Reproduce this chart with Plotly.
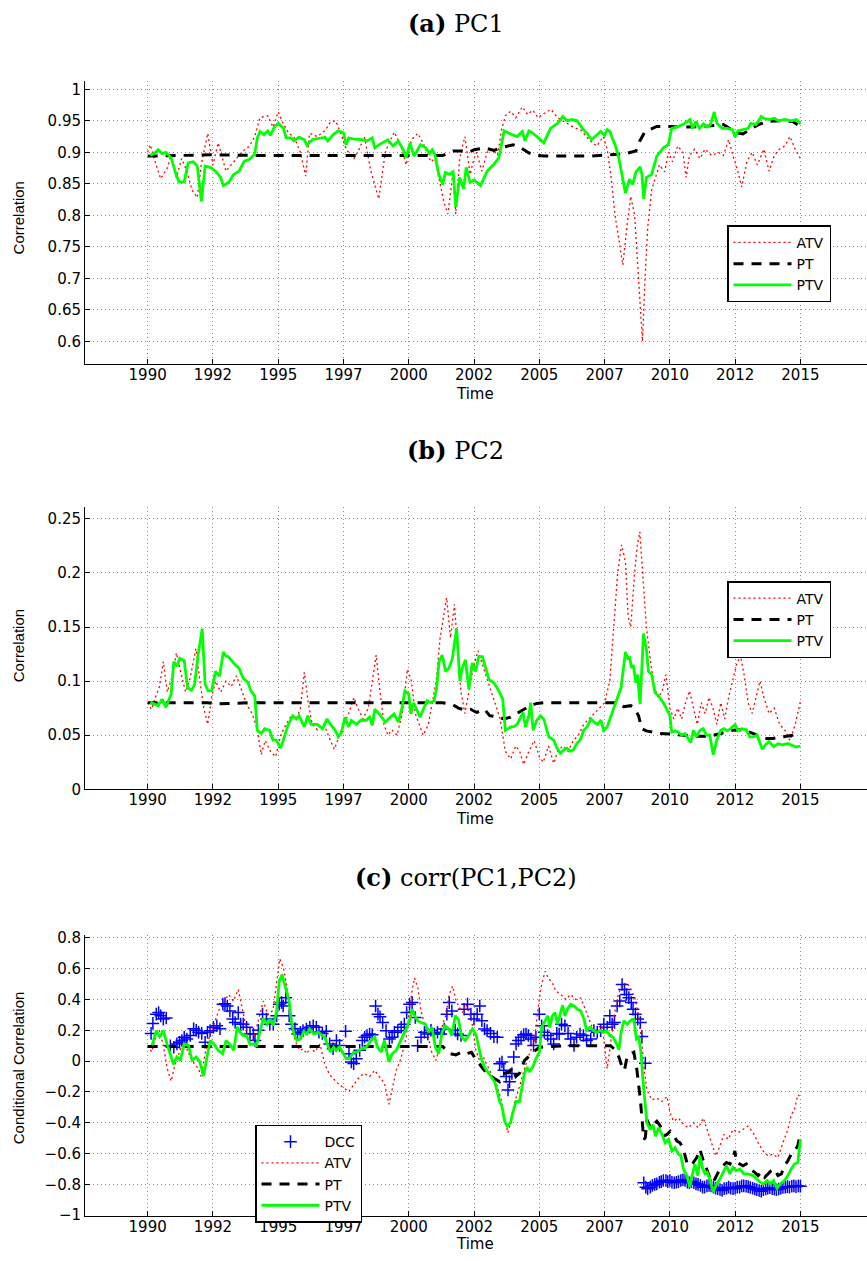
import plotly.graph_objects as go

# ---------------- Panel (a) PC1 ----------------
a_atv_t = [1990.0,1990.1,1990.3,1990.5,1990.75,1990.9,1991.1,1991.3,1991.5,1991.7,1991.9,1992.05,1992.3,1992.5,1992.7,
           1993.0,1993.3,1993.6,1993.9,1994.1,1994.3,1994.6,1994.8,1995.0,1995.2,1995.4,1995.6,1995.85,1996.05,1996.2,
           1996.5,1996.8,1997.0,1997.2,1997.4,1997.6,1997.9,1998.1,1998.3,1998.55,1998.85,1999.1,1999.3,1999.45,1999.7,
           1999.9,2000.1,2000.35,2000.6,2000.85,2001.0,2001.2,2001.35,2001.5,2001.7,2001.8,2001.95,2002.15,2002.35,2002.5,
           2002.6,2002.8,2003.0,2003.2,2003.4,2003.55,2003.7,2003.9,2004.1,2004.35,2004.55,2004.75,2004.95,2005.2,2005.45,
           2005.7,2006.0,2006.3,2006.6,2006.9,2007.2,2007.45,2007.6,2007.75,2007.9,2008.05,2008.2,2008.35,2008.5,2008.65,
           2008.8,2008.95,2009.05,2009.15,2009.3,2009.45,2009.6,2009.8,2009.95,2010.1,2010.3,2010.5,2010.62,2010.75,2010.95,
           2011.15,2011.35,2011.6,2011.85,2012.05,2012.25,2012.45,2012.6,2012.75,2012.95,2013.15,2013.35,2013.6,2013.8,2014.0,
           2014.2,2014.4,2014.6,2014.8,2015.0]
a_atv_v = [0.900,0.912,0.883,0.858,0.875,0.895,0.860,0.890,0.870,0.840,0.828,0.880,0.930,0.880,0.915,
           0.870,0.885,0.900,0.910,0.925,0.955,0.958,0.940,0.964,0.945,0.930,0.925,0.900,0.862,0.930,
           0.925,0.935,0.948,0.950,0.930,0.905,0.890,0.905,0.925,0.870,0.826,0.900,0.920,0.932,0.910,
           0.880,0.920,0.930,0.910,0.885,0.890,0.850,0.820,0.802,0.870,0.802,0.890,0.925,0.865,0.890,
           0.900,0.870,0.900,0.905,0.895,0.935,0.958,0.965,0.955,0.972,0.960,0.967,0.955,0.962,0.968,
           0.955,0.948,0.940,0.935,0.920,0.910,0.925,0.905,0.860,0.800,0.760,0.721,0.780,0.830,0.800,
           0.700,0.600,0.700,0.780,0.840,0.860,0.880,0.869,0.900,0.885,0.910,0.900,0.860,0.895,0.905,
           0.890,0.905,0.895,0.900,0.895,0.920,0.890,0.870,0.845,0.885,0.900,0.880,0.905,0.870,0.895,
           0.905,0.910,0.925,0.905,0.890]

a_pt_t = [1990.0,1991.0,1992.5,1994.0,1996.0,1998.0,2000.0,2001.3,2001.7,2002.0,2002.3,2002.5,2002.9,2003.26,2003.5,
          2003.8,2004.0,2004.3,2004.6,2004.9,2005.2,2006.0,2007.0,2008.0,2008.3,2008.7,2008.85,2009.05,2009.3,2009.5,
          2010.0,2010.5,2011.28,2012.05,2012.55,2012.8,2013.05,2013.45,2013.8,2014.3,2014.7,2015.0]
a_pt_v = [0.894,0.895,0.896,0.895,0.895,0.895,0.895,0.895,0.902,0.902,0.900,0.904,0.907,0.903,0.907,
          0.910,0.912,0.907,0.899,0.895,0.894,0.894,0.894,0.897,0.898,0.902,0.918,0.933,0.938,0.941,
          0.941,0.940,0.941,0.944,0.931,0.929,0.936,0.945,0.949,0.950,0.949,0.941]

a_ptv_t = [1990.1,1990.3,1990.4,1990.55,1990.7,1990.9,1991.1,1991.2,1991.4,1991.55,1991.75,1991.9,1992.06,1992.2,1992.4,
           1992.6,1992.8,1992.9,1993.1,1993.3,1993.5,1993.7,1993.9,1994.1,1994.2,1994.3,1994.45,1994.6,1994.7,1994.85,
           1995.0,1995.2,1995.3,1995.5,1995.6,1995.8,1996.0,1996.1,1996.3,1996.6,1996.8,1996.9,1997.1,1997.3,1997.5,
           1997.6,1997.7,1997.9,1998.2,1998.4,1998.6,1998.7,1998.9,1999.2,1999.4,1999.6,1999.8,1999.9,2000.05,2000.2,
           2000.3,2000.45,2000.65,2000.8,2000.9,2001.0,2001.15,2001.3,2001.4,2001.55,2001.7,2001.8,2001.95,2002.1,2002.2,
           2002.35,2002.5,2002.75,2003.0,2003.26,2003.45,2003.65,2003.9,2004.15,2004.35,2004.45,2004.6,2004.7,2004.9,2005.17,
           2005.43,2005.7,2005.9,2006.06,2006.25,2006.45,2006.65,2006.85,2007.0,2007.2,2007.35,2007.5,2007.6,2007.7,2007.9,
           2008.03,2008.16,2008.3,2008.45,2008.58,2008.7,2008.86,2008.93,2009.0,2009.1,2009.3,2009.5,2009.75,2009.94,2010.07,
           2010.26,2010.5,2010.77,2010.87,2011.0,2011.13,2011.28,2011.43,2011.55,2011.7,2011.8,2012.0,2012.2,2012.4,2012.5,
           2012.6,2012.8,2013.0,2013.1,2013.3,2013.5,2013.6,2013.8,2014.0,2014.15,2014.4,2014.65,2014.85,2015.0]
a_ptv_v = [0.895,0.900,0.904,0.898,0.900,0.891,0.863,0.853,0.853,0.883,0.885,0.878,0.822,0.878,0.876,
           0.870,0.860,0.847,0.852,0.865,0.870,0.886,0.889,0.897,0.923,0.933,0.928,0.934,0.927,0.940,
           0.946,0.938,0.923,0.923,0.918,0.924,0.920,0.911,0.920,0.923,0.924,0.918,0.928,0.934,0.931,
           0.912,0.923,0.921,0.920,0.918,0.923,0.907,0.913,0.920,0.910,0.918,0.903,0.891,0.915,0.894,
           0.902,0.912,0.907,0.898,0.904,0.897,0.865,0.849,0.868,0.865,0.869,0.813,0.860,0.842,0.876,
           0.852,0.856,0.847,0.870,0.881,0.891,0.934,0.929,0.925,0.933,0.918,0.934,0.932,0.925,0.915,
           0.938,0.946,0.957,0.950,0.952,0.950,0.938,0.929,0.920,0.928,0.933,0.927,0.936,0.933,0.912,
           0.894,0.863,0.835,0.857,0.849,0.869,0.877,0.865,0.826,0.860,0.865,0.894,0.907,0.912,0.938,
           0.940,0.944,0.952,0.938,0.949,0.938,0.945,0.940,0.944,0.964,0.946,0.938,0.938,0.936,0.924,
           0.934,0.936,0.938,0.946,0.944,0.957,0.954,0.952,0.954,0.950,0.952,0.950,0.952,0.945]

# ---------------- Panel (b) PC2 ----------------
b_atv_t = [1990.0,1990.15,1990.3,1990.45,1990.6,1990.75,1990.95,1991.1,1991.3,1991.45,1991.6,1991.75,1991.85,1992.0,1992.15,
           1992.3,1992.45,1992.6,1992.8,1993.0,1993.2,1993.4,1993.6,1993.8,1994.0,1994.2,1994.35,1994.5,1994.7,1994.9,
           1995.1,1995.3,1995.5,1995.7,1995.85,1996.0,1996.15,1996.3,1996.5,1996.75,1997.0,1997.15,1997.35,1997.5,1997.7,
           1997.9,1998.05,1998.25,1998.45,1998.6,1998.75,1998.9,1999.05,1999.2,1999.35,1999.55,1999.75,1999.95,2000.1,2000.25,
           2000.4,2000.55,2000.75,2000.9,2001.05,2001.2,2001.35,2001.45,2001.6,2001.75,2001.9,2002.0,2002.15,2002.3,2002.45,
           2002.65,2002.9,2003.1,2003.3,2003.5,2003.7,2003.9,2004.1,2004.25,2004.4,2004.6,2004.8,2005.0,2005.15,2005.35,
           2005.55,2005.7,2005.9,2006.1,2006.3,2006.5,2006.7,2006.9,2007.1,2007.3,2007.5,2007.7,2007.85,2008.0,2008.15,
           2008.3,2008.4,2008.5,2008.65,2008.75,2008.85,2008.95,2009.1,2009.25,2009.4,2009.55,2009.7,2009.85,2010.0,2010.15,
           2010.3,2010.45,2010.6,2010.75,2010.9,2011.05,2011.2,2011.35,2011.5,2011.65,2011.8,2011.95,2012.1,2012.25,2012.4,
           2012.55,2012.7,2012.85,2013.0,2013.15,2013.3,2013.45,2013.6,2013.8,2014.0,2014.2,2014.4,2014.6,2014.8,2015.0]
b_atv_v = [0.080,0.074,0.085,0.095,0.118,0.090,0.105,0.126,0.105,0.090,0.100,0.120,0.130,0.100,0.075,
           0.060,0.085,0.100,0.090,0.100,0.095,0.105,0.092,0.078,0.070,0.055,0.032,0.045,0.035,0.030,
           0.050,0.060,0.068,0.065,0.075,0.108,0.080,0.060,0.055,0.060,0.045,0.037,0.050,0.060,0.070,
           0.085,0.075,0.065,0.075,0.100,0.124,0.090,0.060,0.050,0.055,0.050,0.070,0.111,0.100,0.070,
           0.060,0.050,0.060,0.080,0.100,0.140,0.165,0.177,0.140,0.171,0.120,0.090,0.070,0.090,0.110,
           0.128,0.110,0.095,0.080,0.065,0.035,0.028,0.040,0.035,0.023,0.035,0.045,0.030,0.025,0.040,
           0.024,0.035,0.040,0.035,0.045,0.050,0.060,0.065,0.070,0.075,0.080,0.100,0.148,0.200,0.226,
           0.210,0.160,0.150,0.200,0.225,0.238,0.200,0.150,0.120,0.095,0.085,0.090,0.106,0.075,0.065,
           0.075,0.065,0.080,0.091,0.075,0.060,0.080,0.070,0.085,0.075,0.060,0.080,0.065,0.085,0.100,
           0.115,0.124,0.105,0.080,0.070,0.085,0.100,0.085,0.070,0.075,0.060,0.055,0.045,0.060,0.081]

b_pt_t = [1990.0,1992.3,1992.6,1994.0,2001.3,2001.7,2001.9,2002.2,2002.37,2002.6,2002.9,2003.1,2003.4,2003.65,2003.9,
          2004.15,2004.4,2004.66,2004.9,2005.2,2007.9,2008.23,2008.5,2008.65,2008.8,2008.92,2009.1,2009.37,2009.63,2010.0,
          2010.5,2011.0,2011.53,2011.9,2012.4,2012.8,2013.2,2013.57,2013.95,2014.33,2014.7,2015.0]
b_pt_v = [0.080,0.080,0.079,0.080,0.080,0.078,0.075,0.073,0.074,0.071,0.074,0.068,0.067,0.065,0.0667,
          0.070,0.0733,0.0773,0.0794,0.080,0.080,0.0764,0.0773,0.075,0.068,0.056,0.054,0.053,0.0515,0.051,
          0.050,0.049,0.049,0.0515,0.0545,0.055,0.0515,0.047,0.047,0.0485,0.050,0.052]

b_ptv_t = [1990.1,1990.25,1990.4,1990.55,1990.7,1990.9,1991.0,1991.13,1991.23,1991.4,1991.53,1991.68,1991.8,1991.93,1992.09,
           1992.2,1992.32,1992.45,1992.6,1992.75,1992.9,1993.0,1993.1,1993.35,1993.5,1993.65,1993.85,1993.95,1994.1,1994.2,
           1994.35,1994.48,1994.67,1994.8,1994.92,1995.1,1995.24,1995.37,1995.56,1995.7,1995.8,1996.0,1996.13,1996.26,1996.5,
           1996.7,1996.87,1997.0,1997.15,1997.3,1997.43,1997.56,1997.7,1997.8,1998.0,1998.17,1998.36,1998.5,1998.6,1998.7,
           1998.87,1999.1,1999.3,1999.44,1999.6,1999.73,1999.85,2000.0,2000.08,2000.18,2000.3,2000.43,2000.56,2000.7,2000.84,
           2000.97,2001.07,2001.16,2001.28,2001.41,2001.54,2001.67,2001.83,2001.96,2002.05,2002.17,2002.3,2002.43,2002.56,2002.68,
           2002.82,2002.95,2003.07,2003.26,2003.45,2003.6,2003.7,2003.9,2004.03,2004.15,2004.28,2004.38,2004.47,2004.6,2004.67,
           2004.76,2004.9,2005.04,2005.17,2005.36,2005.55,2005.68,2005.8,2005.93,2006.06,2006.19,2006.3,2006.44,2006.57,2006.7,
           2006.83,2006.98,2007.1,2007.23,2007.36,2007.46,2007.6,2007.7,2007.8,2007.95,2008.13,2008.23,2008.3,2008.4,2008.46,
           2008.53,2008.6,2008.7,2008.76,2008.86,2008.92,2008.99,2009.1,2009.18,2009.3,2009.43,2009.56,2009.75,2009.88,2010.0,
           2010.07,2010.2,2010.32,2010.45,2010.58,2010.7,2010.8,2010.9,2011.02,2011.15,2011.28,2011.4,2011.53,2011.66,2011.8,
           2011.95,2012.07,2012.2,2012.32,2012.5,2012.6,2012.75,2012.93,2013.06,2013.19,2013.34,2013.44,2013.54,2013.66,2013.8,
           2013.98,2014.14,2014.33,2014.52,2014.65,2014.84,2015.0]
b_ptv_v = [0.0803,0.079,0.0773,0.0833,0.0758,0.088,0.118,0.1137,0.121,0.1188,0.094,0.0915,0.097,0.124,0.1485,
           0.097,0.091,0.091,0.109,0.1045,0.127,0.123,0.1225,0.115,0.112,0.103,0.0985,0.091,0.0864,0.0545,
           0.0515,0.056,0.0545,0.0455,0.0455,0.038,0.050,0.059,0.068,0.065,0.068,0.0576,0.068,0.060,0.060,
           0.056,0.065,0.060,0.056,0.0485,0.053,0.0667,0.0576,0.0636,0.060,0.064,0.0636,0.0667,0.059,0.074,
           0.0697,0.0621,0.0667,0.0697,0.0621,0.074,0.091,0.088,0.0697,0.080,0.074,0.0667,0.074,0.0818,0.080,
           0.0818,0.094,0.118,0.124,0.109,0.112,0.121,0.1485,0.100,0.112,0.1197,0.0925,0.1167,0.109,0.1227,
           0.1227,0.112,0.1015,0.0985,0.091,0.0833,0.0545,0.0576,0.058,0.060,0.0667,0.071,0.0576,0.068,0.080,
           0.0545,0.0636,0.068,0.065,0.0485,0.0455,0.038,0.0333,0.0364,0.038,0.035,0.0364,0.0424,0.0455,0.0545,
           0.0576,0.065,0.062,0.060,0.064,0.0545,0.0576,0.065,0.071,0.0818,0.094,0.112,0.127,0.120,0.1227,
           0.112,0.115,0.0985,0.106,0.0788,0.112,0.144,0.130,0.109,0.106,0.0894,0.0864,0.080,0.074,0.068,
           0.053,0.054,0.053,0.050,0.0515,0.047,0.043,0.0545,0.0485,0.0545,0.056,0.050,0.050,0.032,0.0455,
           0.0545,0.056,0.054,0.056,0.060,0.054,0.056,0.055,0.0485,0.0485,0.050,0.044,0.037,0.041,0.044,
           0.0394,0.042,0.041,0.0424,0.041,0.039,0.040]

# ---------------- Panel (c) corr(PC1,PC2) ----------------
c_dcc_t = [1990.13,1990.2,1990.33,1990.42,1990.5,1990.6,1990.71,1990.87,1991.0,1991.12,1991.22,1991.31,1991.4,1991.5,1991.63,
           1991.76,1991.86,1991.95,1992.07,1992.2,1992.29,1992.39,1992.52,1992.65,1992.77,1992.88,1992.96,1993.05,1993.15,1993.26,
           1993.35,1993.47,1993.56,1993.66,1993.79,1993.92,1994.05,1994.11,1994.24,1994.4,1994.55,1994.68,1994.81,1994.94,1995.04,
           1995.13,1995.19,1995.29,1995.42,1995.51,1995.64,1995.74,1995.85,1995.95,1996.08,1996.21,1996.34,1996.46,1996.56,1996.69,
           1996.84,1996.97,1997.1,1997.23,1997.35,1997.58,1997.71,1997.8,1997.89,1997.99,1998.12,1998.22,1998.31,1998.4,1998.5,
           1998.6,1998.73,1998.82,1998.9,1999.0,1999.13,1999.26,1999.36,1999.45,1999.58,1999.71,1999.83,1999.92,2000.03,2000.13,
           2000.25,2000.34,2000.47,2000.6,2000.73,2000.85,2000.98,2001.1,2001.23,2001.36,2001.46,2001.55,2001.65,2001.78,2001.87,
           2002.0,2002.12,2002.25,2002.38,2002.5,2002.62,2002.72,2002.8,2002.9,2003.0,2003.13,2003.26,2003.39,2003.48,2003.57,
           2003.64,2003.73,2003.8,2003.86,2003.95,2004.02,2004.11,2004.2,2004.3,2004.4,2004.49,2004.58,2004.68,2004.78,2004.87,
           2005.0,2005.09,2005.19,2005.32,2005.44,2005.55,2005.67,2005.76,2005.85,2005.98,2006.1,2006.2,2006.33,2006.43,2006.56,
           2006.69,2006.81,2006.97,2007.09,2007.22,2007.35,2007.47,2007.6,2007.7,2007.79,2007.88,2007.98,2008.08,2008.17,2008.26,
           2008.34,2008.43,2008.52,2008.59,2008.68,2008.77,2008.87,2008.93,2009.06,
           2009.0,2009.08,2009.15,2009.25,2009.33,2009.42,2009.5,2009.6,2009.67,2009.75,2009.85,2009.92,2010.0,2010.08,2010.17,
           2010.25,2010.33,2010.42,2010.5,2010.58,2010.67,2010.75,2010.83,2010.92,2011.0,2011.08,2011.17,2011.25,2011.33,2011.42,
           2011.5,2011.58,2011.67,2011.75,2011.83,2011.92,2012.0,2012.08,2012.17,2012.25,2012.33,2012.42,2012.5,2012.58,2012.67,
           2012.75,2012.83,2012.92,2013.0,2013.08,2013.17,2013.25,2013.33,2013.42,2013.5,2013.58,2013.67,2013.75,2013.83,2013.92,
           2014.0,2014.08,2014.17,2014.25,2014.33,2014.42,2014.5,2014.58,2014.67,2014.75,2014.83,2014.92,2015.0]
c_dcc_v = [0.18,0.245,0.305,0.315,0.294,0.273,0.28,0.10,0.09,0.112,0.123,0.134,0.155,0.144,0.166,
           0.21,0.20,0.187,0.18,0.123,0.187,0.198,0.22,0.23,0.21,0.37,0.373,0.358,0.326,0.273,
           0.251,0.315,0.24,0.24,0.22,0.176,0.176,0.134,0.20,0.305,0.273,0.24,0.24,0.294,0.37,
           0.38,0.358,0.412,0.294,0.24,0.21,0.176,0.187,0.198,0.209,0.22,0.23,0.22,0.187,0.18,
           0.194,0.112,0.08,0.134,0.102,0.194,0.048,-0.005,-0.016,0.016,0.07,0.134,0.155,0.166,0.176,
           0.172,0.358,0.305,0.288,0.251,0.198,0.144,0.155,0.187,0.198,0.22,0.24,0.315,0.37,0.38,
           0.283,0.10,0.155,0.187,0.176,0.20,0.176,0.187,0.176,0.209,0.305,0.38,0.326,0.20,0.176,
           0.166,0.337,0.37,0.305,0.273,0.305,0.358,0.262,0.209,0.198,0.18,0.159,0.155,-0.017,-0.006,
           -0.06,-0.10,-0.187,-0.134,-0.08,0.026,0.112,0.134,0.155,0.172,0.176,0.166,0.144,0.102,0.155,
           0.305,0.23,0.187,0.166,0.144,0.112,0.18,0.176,0.24,0.23,0.18,0.144,0.102,0.155,0.176,
           0.166,0.134,0.144,0.198,0.187,0.198,0.24,0.22,0.294,0.24,0.251,0.358,0.39,0.497,0.465,
           0.433,0.412,0.38,0.337,0.305,0.273,0.251,0.16,-0.013,
           -0.79,-0.818,-0.828,-0.818,-0.807,-0.80,-0.797,-0.786,-0.782,-0.775,-0.775,-0.782,-0.775,-0.786,-0.79,
           -0.786,-0.782,-0.775,-0.77,-0.775,-0.786,-0.79,-0.782,-0.79,-0.797,-0.80,-0.807,-0.818,-0.818,-0.81,
           -0.807,-0.81,-0.818,-0.825,-0.828,-0.833,-0.84,-0.828,-0.825,-0.818,-0.825,-0.828,-0.825,-0.818,-0.818,
           -0.81,-0.81,-0.812,-0.815,-0.82,-0.825,-0.83,-0.835,-0.84,-0.845,-0.835,-0.83,-0.825,-0.822,-0.828,
           -0.83,-0.835,-0.83,-0.825,-0.82,-0.818,-0.815,-0.818,-0.812,-0.81,-0.815,-0.81,-0.812]

c_atv_t = [1990.0,1990.15,1990.3,1990.45,1990.6,1990.75,1990.9,1991.05,1991.2,1991.35,1991.5,1991.65,1991.8,1991.95,1992.05,
           1992.2,1992.35,1992.5,1992.77,1993.1,1993.28,1993.47,1993.66,1993.85,1993.98,1994.17,1994.43,1994.6,1994.8,1995.0,
           1995.06,1995.2,1995.32,1995.45,1995.57,1995.7,1995.83,1995.95,1996.1,1996.23,1996.4,1996.6,1996.78,1996.97,1997.16,
           1997.35,1997.54,1997.7,1997.93,1998.12,1998.3,1998.5,1998.69,1998.88,1999.07,1999.24,1999.39,1999.52,1999.7,1999.9,
           2000.1,2000.22,2000.35,2000.47,2000.6,2000.73,2000.85,2001.04,2001.17,2001.3,2001.42,2001.55,2001.68,2001.8,2001.93,
           2002.06,2002.19,2002.32,2002.44,2002.57,2002.72,2002.85,2002.97,2003.16,2003.35,2003.54,2003.67,2003.8,2003.92,2004.05,
           2004.24,2004.43,2004.62,2004.81,2004.94,2005.06,2005.22,2005.34,2005.5,2005.63,2005.82,2006.02,2006.2,2006.4,2006.59,
           2006.78,2006.94,2007.1,2007.25,2007.41,2007.6,2007.73,2007.86,2007.98,2008.17,2008.36,2008.55,2008.68,2008.81,2008.93,
           2009.02,2009.12,2009.31,2009.5,2009.7,2009.89,2010.01,2010.14,2010.33,2010.52,2010.71,2010.9,2011.09,2011.28,2011.43,
           2011.6,2011.76,2011.92,2012.07,2012.23,2012.42,2012.61,2012.8,2012.99,2013.19,2013.38,2013.57,2013.76,2013.95,2014.14,
           2014.33,2014.52,2014.65,2014.77,2014.9,2015.0]
c_atv_v = [0.10,0.06,0.15,0.20,0.10,-0.05,-0.13,-0.02,0.05,0.12,0.08,0.02,-0.02,-0.05,-0.10,
           0.05,0.15,0.22,0.35,0.433,0.39,0.465,0.30,0.155,0.11,0.22,0.39,0.30,0.33,0.583,
           0.664,0.604,0.497,0.30,0.176,0.112,0.07,0.08,0.048,0.09,0.059,0.11,-0.017,-0.09,-0.123,
           -0.155,-0.176,-0.198,-0.144,-0.10,-0.08,-0.10,-0.06,-0.10,-0.144,-0.28,-0.166,-0.06,0.016,0.155,
           0.433,0.54,0.476,0.326,0.24,0.176,0.07,0.004,0.09,0.24,0.30,0.433,0.487,0.40,0.35,
           0.316,0.369,0.316,0.23,0.07,0.0,0.03,-0.017,-0.08,-0.144,-0.25,-0.38,-0.465,-0.38,-0.27,
           -0.166,-0.05,0.047,0.134,0.326,0.476,0.583,0.54,0.508,0.455,0.433,0.40,0.433,0.40,0.41,
           0.326,0.262,0.187,0.219,0.23,-0.05,0.134,0.28,0.41,0.497,0.508,0.455,0.40,0.28,0.112,
           -0.06,-0.187,-0.251,-0.24,-0.262,-0.23,-0.337,-0.39,-0.37,-0.41,-0.433,-0.40,-0.433,-0.37,-0.444,
           -0.53,-0.615,-0.55,-0.476,-0.508,-0.444,-0.465,-0.444,-0.422,-0.465,-0.53,-0.583,-0.615,-0.604,-0.626,
           -0.53,-0.444,-0.347,-0.315,-0.219,-0.23]

c_pt_t = [1990.0,1992.0,1994.0,1996.0,1998.0,2000.0,2001.3,2001.55,2001.8,2002.05,2002.25,2002.4,2002.55,2002.9,2003.16,
          2003.48,2003.67,2003.85,2003.98,2004.1,2004.24,2004.43,2004.62,2004.81,2005.0,2006.0,2007.0,2007.73,2007.86,2008.05,
          2008.17,2008.26,2008.36,2008.49,2008.62,2008.74,2008.87,2008.93,2009.0,2009.06,2009.12,2009.25,2009.38,2009.5,2009.63,
          2009.76,2009.89,2010.01,2010.16,2010.27,2010.39,2010.52,2010.65,2010.77,2010.9,2011.03,2011.15,2011.28,2011.41,2011.54,
          2011.66,2011.79,2011.92,2012.04,2012.17,2012.3,2012.42,2012.49,2012.55,2012.68,2012.8,2012.93,2013.06,2013.25,2013.38,
          2013.5,2013.63,2013.76,2013.88,2014.0,2014.14,2014.27,2014.39,2014.52,2014.65,2014.77,2014.9,2015.0]
c_pt_v = [0.095,0.095,0.095,0.095,0.095,0.095,0.095,0.05,0.04,0.06,0.05,0.058,0.015,-0.06,-0.10,
          -0.134,-0.08,-0.07,-0.04,-0.10,-0.08,0.004,0.036,0.064,0.09,0.10,0.10,0.10,0.08,0.026,
          -0.038,-0.06,0.026,0.047,0.058,-0.06,-0.251,-0.40,-0.508,-0.497,-0.38,-0.433,-0.41,-0.39,-0.42,
          -0.487,-0.476,-0.455,-0.487,-0.519,-0.53,-0.572,-0.658,-0.636,-0.658,-0.626,-0.572,-0.647,-0.70,-0.764,
          -0.786,-0.743,-0.70,-0.679,-0.658,-0.668,-0.626,-0.583,-0.658,-0.668,-0.679,-0.668,-0.70,-0.722,-0.743,
          -0.72,-0.754,-0.732,-0.711,-0.70,-0.743,-0.732,-0.679,-0.647,-0.604,-0.583,-0.55,-0.46]

c_ptv_t = [1990.17,1990.33,1990.46,1990.6,1990.74,1990.87,1990.99,1991.12,1991.25,1991.4,1991.56,1991.7,1991.86,1992.0,1992.14,
           1992.26,1992.4,1992.54,1992.7,1992.87,1993.0,1993.18,1993.3,1993.43,1993.54,1993.66,1993.79,1993.92,1994.05,1994.17,
           1994.3,1994.43,1994.58,1994.68,1994.81,1994.94,1995.04,1995.15,1995.28,1995.42,1995.5,1995.6,1995.72,1995.85,1995.98,
           1996.1,1996.2,1996.36,1996.53,1996.65,1996.78,1996.9,1997.0,1997.12,1997.22,1997.35,1997.5,1997.6,1997.73,1997.89,
           1998.0,1998.18,1998.37,1998.56,1998.7,1998.8,1998.94,1999.07,1999.24,1999.36,1999.52,1999.64,1999.77,1999.9,2000.03,
           2000.13,2000.23,2000.34,2000.47,2000.64,2000.76,2000.89,2001.02,2001.15,2001.27,2001.4,2001.53,2001.65,2001.78,2001.9,
           2002.03,2002.16,2002.29,2002.44,2002.57,2002.65,2002.78,2002.9,2003.03,2003.16,2003.29,2003.39,2003.48,2003.57,2003.67,
           2003.77,2003.9,2003.98,2004.11,2004.24,2004.33,2004.43,2004.53,2004.62,2004.75,2004.87,2005.0,2005.09,2005.22,2005.32,
           2005.4,2005.5,2005.6,2005.7,2005.8,2005.89,2005.98,2006.08,2006.2,2006.33,2006.46,2006.59,2006.71,2006.81,2006.94,
           2007.07,2007.2,2007.32,2007.45,2007.58,2007.7,2007.83,2007.96,2008.05,2008.13,2008.24,2008.36,2008.49,2008.62,2008.72,
           2008.81,2008.9,2008.97,2009.05,2009.12,2009.25,2009.35,2009.45,2009.57,2009.7,2009.82,2009.95,2010.08,2010.2,2010.33,
           2010.42,2010.52,2010.65,2010.77,2010.88,2010.96,2011.07,2011.15,2011.26,2011.35,2011.43,2011.54,2011.66,2011.79,2011.92,
           2012.04,2012.17,2012.3,2012.42,2012.55,2012.68,2012.83,2012.99,2013.19,2013.34,2013.46,2013.59,2013.72,2013.85,2013.97,
           2014.1,2014.23,2014.39,2014.52,2014.65,2014.77,2014.9,2015.0]
c_ptv_v = [0.102,0.198,0.159,0.198,0.112,0.048,-0.02,0.027,0.005,0.112,0.102,0.005,0.027,-0.005,-0.097,
           0.016,0.134,0.112,0.07,0.048,0.134,0.102,0.07,0.224,0.187,0.166,0.166,0.108,0.112,0.102,
           0.187,0.279,0.24,0.273,0.23,0.326,0.519,0.562,0.476,0.39,0.262,0.176,0.134,0.144,0.194,
           0.176,0.209,0.176,0.187,0.172,0.155,0.102,0.059,0.091,0.07,0.091,0.048,0.016,0.016,0.059,
           0.059,0.08,0.091,0.134,0.155,0.091,0.059,0.134,-0.005,0.048,0.07,0.112,0.155,0.209,0.262,
           0.337,0.294,0.262,0.251,0.24,0.187,0.219,0.091,0.048,0.187,0.23,0.209,0.166,0.294,0.273,
           0.155,0.134,0.166,0.209,0.176,0.12,0.015,-0.04,-0.07,-0.10,-0.134,-0.198,-0.262,-0.294,-0.39,
           -0.422,-0.40,-0.337,-0.262,-0.262,-0.166,-0.08,-0.038,-0.07,-0.038,0.015,0.058,0.219,0.262,0.294,
           0.219,0.294,0.315,0.24,0.305,0.363,0.294,0.337,0.369,0.358,0.337,0.326,0.273,0.20,0.219,
           0.198,0.187,0.20,0.187,0.198,0.166,0.155,0.112,0.074,0.187,0.262,0.24,0.262,0.273,0.144,
           0.155,0.047,-0.124,-0.251,-0.40,-0.444,-0.412,-0.487,-0.433,-0.476,-0.53,-0.508,-0.583,-0.562,-0.604,
           -0.615,-0.70,-0.743,-0.818,-0.722,-0.668,-0.743,-0.615,-0.70,-0.732,-0.722,-0.775,-0.85,-0.797,-0.764,
           -0.722,-0.679,-0.732,-0.69,-0.711,-0.70,-0.732,-0.732,-0.743,-0.764,-0.786,-0.797,-0.775,-0.797,-0.775,
           -0.825,-0.797,-0.775,-0.743,-0.70,-0.668,-0.658,-0.508]

# ---------------- axes / labels ----------------
x_tickvals = [1990, 1992.5, 1995, 1997.5, 2000, 2002.5, 2005, 2007.5, 2010, 2012.5, 2015]
x_ticktext = ["1990", "1992", "1995", "1997", "2000", "2002", "2005", "2007", "2010", "2012", "2015"]
panel_titles = ["<b>(a)</b> PC1", "<b>(b)</b> PC2", "<b>(c)</b> corr(PC1,PC2)"]
y_titles = ["Correlation", "Correlation", "Conditional Correlation"]

W, H = 867, 1261
RED, BLACK, GREEN, BLUE = "#ff0000", "#000000", "#00ff00", "#0000ff"

def py(y):  # pixel-from-top -> paper fraction
    return 1 - y / H

fig = go.Figure()

def add_lines(xa, ya, leg, atv, pt, ptv):
    fig.add_trace(go.Scatter(x=atv[0], y=atv[1], mode="lines", name="ATV", legend=leg,
                             line=dict(color=RED, width=1.3, dash="2px,3px"), xaxis=xa, yaxis=ya))
    fig.add_trace(go.Scatter(x=pt[0], y=pt[1], mode="lines", name="PT", legend=leg,
                             line=dict(color=BLACK, width=3, dash="10px,8px"), xaxis=xa, yaxis=ya))
    fig.add_trace(go.Scatter(x=ptv[0], y=ptv[1], mode="lines", name="PTV", legend=leg,
                             line=dict(color=GREEN, width=2.8), xaxis=xa, yaxis=ya))

add_lines("x", "y", "legend", (a_atv_t, a_atv_v), (a_pt_t, a_pt_v), (a_ptv_t, a_ptv_v))
add_lines("x2", "y2", "legend2", (b_atv_t, b_atv_v), (b_pt_t, b_pt_v), (b_ptv_t, b_ptv_v))
fig.add_trace(go.Scatter(x=c_dcc_t, y=c_dcc_v, mode="markers", name="DCC", legend="legend3",
                         marker=dict(symbol="cross-thin", size=9, color=BLUE, line=dict(color=BLUE, width=1.5)),
                         xaxis="x3", yaxis="y3"))
add_lines("x3", "y3", "legend3", (c_atv_t, c_atv_v), (c_pt_t, c_pt_v), (c_ptv_t, c_ptv_v))

tickfont = dict(family="DejaVu Sans", size=15, color="black")
grid = dict(showgrid=True, gridcolor="#8c8c8c", gridwidth=1, griddash="1px,3px")

def xax(anchor):
    return dict(domain=[85 / W, 1.0], range=[1987.6, 2017.55], anchor=anchor,
                tickvals=x_tickvals, ticktext=x_ticktext, tickfont=tickfont,
                ticks="inside", ticklen=5, tickcolor="black", ticklabelstandoff=-3,
                showline=True, linecolor="black", linewidth=1, zeroline=False, **grid)

def yax(anchor, top, bot, rng, dtick, t0):
    return dict(domain=[py(bot), py(top)], range=rng, anchor=anchor,
                tick0=t0, dtick=dtick, tickfont=tickfont,
                ticks="inside", ticklen=5, tickcolor="black",
                showline=True, linecolor="black", linewidth=1, zeroline=False, **grid)

legend_common = dict(bgcolor="white", bordercolor="black", borderwidth=1.5,
                     font=dict(family="DejaVu Sans", size=14, color="black"),
                     itemwidth=58, xanchor="left", yanchor="top", tracegroupgap=0,
                     itemclick=False, itemdoubleclick=False)

annotations = []
for txt, yc, xc in zip(panel_titles, [18, 450, 882], [456, 456, 466]):
    annotations.append(dict(text=txt, x=xc / W, y=py(yc), xref="paper", yref="paper",
                            showarrow=False, xanchor="center", yanchor="middle",
                            font=dict(family="DejaVu Serif", size=24, color="black")))
for txt, yc in zip(y_titles, [215, 648, 1075]):
    annotations.append(dict(text=txt, x=18 / W, y=py(yc), xref="paper", yref="paper",
                            showarrow=False, textangle=-90, xanchor="center", yanchor="middle",
                            font=dict(family="Liberation Sans", size=15, color="black")))
for yc in [393, 823, 1253]:
    annotations.append(dict(text="Time", x=475 / W, y=py(yc), xref="paper", yref="paper",
                            showarrow=False, xanchor="center", yanchor="middle",
                            font=dict(family="DejaVu Sans", size=15, color="black")))

fig.update_layout(
    width=W, height=H, margin=dict(l=0, r=0, t=0, b=0),
    paper_bgcolor="white", plot_bgcolor="white",
    xaxis=xax("y"), yaxis=yax("x", 75.7, 362.7, [0.5633, 1.0135], 0.05, 0.6),
    xaxis2=xax("y2"), yaxis2=yax("x2", 507.3, 792.7, [0, 0.2607], 0.05, 0),
    xaxis3=xax("y3"), yaxis3=yax("x3", 940.0, 1224.5, [-1.005, 0.82], 0.2, -1),
    legend=dict(x=727 / W, y=py(222), **legend_common),
    legend2=dict(x=727 / W, y=py(582), **legend_common),
    legend3=dict(x=255 / W, y=py(1132), **legend_common),
    annotations=annotations,
    showlegend=True,
)

fig.write_html("out.html", config={"displayModeBar": False},
               post_script="document.body.style.margin='0px';document.body.style.overflow='hidden';")
